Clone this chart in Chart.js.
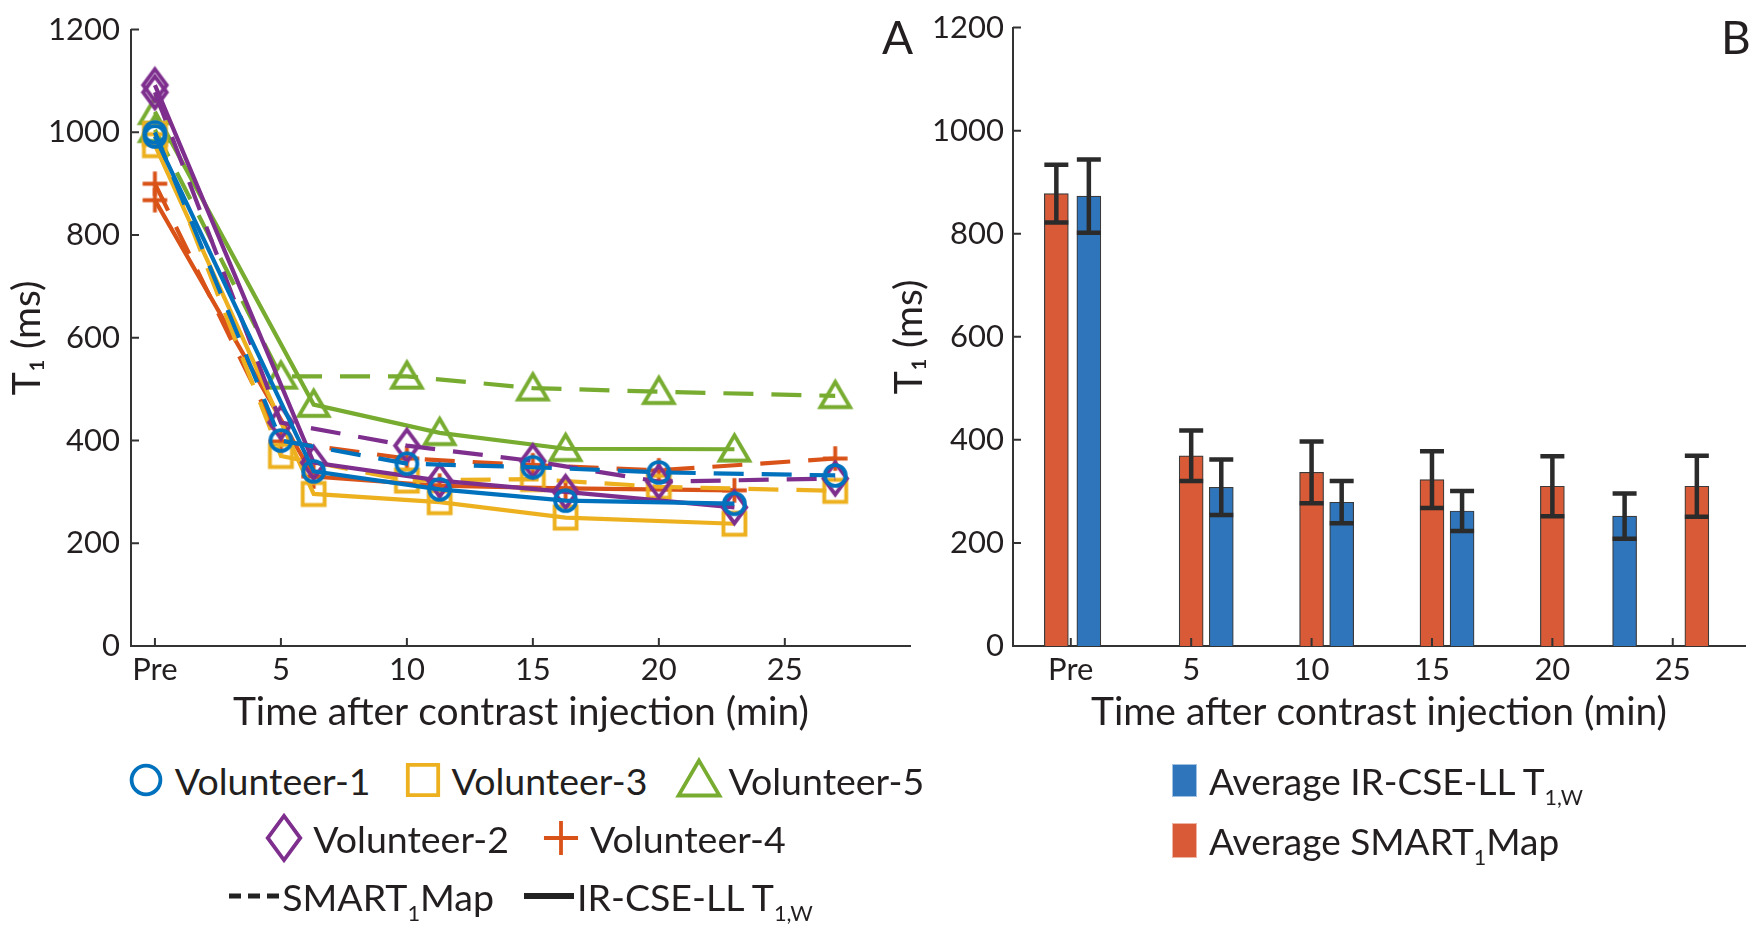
<!DOCTYPE html>
<html>
<head>
<meta charset="utf-8">
<script src="https://cdn.jsdelivr.net/npm/chart.js@4.4.1/dist/chart.umd.min.js"></script>
<style>
  body { margin: 0; width: 1755px; height: 932px; background: #fff; position: relative; overflow: hidden;
         font-family: Lato, "Noto Sans", sans-serif; color: #231f20; }
  .box { position: absolute; top: 0; height: 745px; }
  .panel-tag { position: absolute; top: 14px; font-size: 46px; line-height: 1; }
  .legend { position: absolute; font-size: 37.5px; white-space: nowrap; }
  .legend .row { height: 58px; display: flex; align-items: center; justify-content: center; }
  .legend .item { display: flex; align-items: center; margin: 0 12px; }
  .legend .item span { margin-left: 1px; }
  .legend .item span.after-line { margin-left: 3px; }
  .legend .row.lines .item { margin: 0 15px; }
  #legRight .row { justify-content: flex-start; height: 60px; }
  #legRight canvas { margin-right: 12px; }
  sub { font-size: 58%; vertical-align: -0.45em; line-height: 0; }
</style>
</head>
<body>
<div class="box" style="left:0;width:925px"><canvas id="lines"></canvas></div>
<div class="box" style="left:870px;width:885px"><canvas id="bars"></canvas></div>
<div class="panel-tag" style="left:882px">A</div>
<div class="panel-tag" style="left:1721px">B</div>

<div class="legend" id="legLeft" style="left:0;top:751px;width:1042px"></div>
<div class="legend" id="legRight" style="left:1172px;top:750px;font-size:37px">
  <div class="row"><canvas id="swIr" width="25" height="33"></canvas><span>Average IR-CSE-LL T<sub>1,W</sub></span></div>
  <div class="row"><canvas id="swSm" width="25" height="35"></canvas><span>Average SMART<sub>1</sub>Map</span></div>
</div>

<script>
// x ticks shared by both panels
const tickValues = [0, 5, 10, 15, 20, 25];
const tickLabels = ['Pre', '5', '10', '15', '20', '25'];

// panel A - individual volunteers
const smartTimes = [0, 5, 10, 15, 20, 27];
const irTimes = [0, 6.3, 11.3, 16.3, 23];
const v1Smart = [1000, 400, 355, 348, 338, 332];
const v1Ir = [992, 340, 305, 283, 277];
const v2Smart = [1078, 435, 390, 360, 320, 326];
const v2Ir = [1092, 357, 322, 300, 270];
const v3Smart = [997, 370, 322, 325, 310, 302];
const v3Ir = [975, 296, 280, 250, 238];
const v4Smart = [900, 398, 365, 352, 342, 365];
const v4Ir = [868, 330, 312, 307, 303];
const v5Smart = [1005, 525, 525, 502, 495, 487];
const v5Ir = [1040, 470, 415, 384, 383];

// panel B - averages with error bars
const barSmartTimes = [-0.6, 5, 10, 15, 20, 26];
const barSmartMean = [878, 369, 337, 323, 310, 310];
const barSmartErr = [56, 49, 60, 55, 58, 59];
const barIrTimes = [0.75, 6.25, 11.25, 16.25, 23];
const barIrMean = [873, 308, 279, 262, 252];
const barIrErr = [71, 54, 41, 39, 44];

const FONT = 'Lato';
const INK = '#231f20';
const AXIS = '#333333';
const cBlue = '#0072BD', cOrange = '#D95319', cYellow = '#EDB120', cPurple = '#7E2F8E', cGreen = '#77AC30';
const barOrange = '#d95a36', barBlue = '#2e75bb';

// hollow matlab-like markers, k scales them up
function marker(shape, color, k, lw) {
  const c = document.createElement('canvas');
  const size = Math.ceil(36 * k);
  c.width = size; c.height = size;
  const g = c.getContext('2d');
  g.strokeStyle = color; g.lineWidth = lw / k; g.lineJoin = 'miter';
  g.translate(size / 2, size / 2);
  g.scale(k, k);
  g.beginPath();
  if (shape === 'circle') g.arc(0, 0, 9.3, 0, Math.PI * 2);
  if (shape === 'square') g.rect(-9.8, -9.8, 19.6, 19.6);
  if (shape === 'triangle') { g.moveTo(0, -12.5); g.lineTo(13.2, 10); g.lineTo(-13.2, 10); g.closePath(); }
  if (shape === 'diamond') { g.moveTo(0, -14.2); g.lineTo(10.5, 0); g.lineTo(0, 14.2); g.lineTo(-10.5, 0); g.closePath(); }
  if (shape === 'plus') { g.moveTo(-11, 0); g.lineTo(11, 0); g.moveTo(0, -11); g.lineTo(0, 11); }
  g.stroke();
  return c;
}

const vols = [
  { name: 'Volunteer-1', color: cBlue, shape: 'circle', sm: v1Smart, ir: v1Ir },
  { name: 'Volunteer-2', color: cPurple, shape: 'diamond', sm: v2Smart, ir: v2Ir },
  { name: 'Volunteer-3', color: cYellow, shape: 'square', sm: v3Smart, ir: v3Ir },
  { name: 'Volunteer-4', color: cOrange, shape: 'plus', sm: v4Smart, ir: v4Ir },
  { name: 'Volunteer-5', color: cGreen, shape: 'triangle', sm: v5Smart, ir: v5Ir }
];

const lineSets = [];
vols.forEach(v => {
  const m = marker(v.shape, v.color, 1.12, 3.9);
  lineSets.push({
    label: v.name + ' IR-CSE-LL',
    data: irTimes.map((t, i) => ({ x: t, y: v.ir[i] })),
    borderColor: v.color, borderWidth: 4.2, pointStyle: m, pointRadius: 10, tension: 0
  });
  lineSets.push({
    label: v.name + ' SMART1Map',
    data: smartTimes.map((t, i) => ({ x: t, y: v.sm[i] })),
    borderColor: v.color, borderWidth: 4.2, borderDash: [30, 18], pointStyle: m, pointRadius: 10, tension: 0
  });
});

// matlab style ticks pointing into the plot
const inwardTicks = {
  id: 'inwardTicks',
  afterDraw(chart) {
    const { ctx, chartArea: a, scales: { x, y } } = chart;
    ctx.save();
    ctx.strokeStyle = AXIS; ctx.lineWidth = 2;
    ctx.beginPath();
    y.ticks.forEach(t => { const p = y.getPixelForValue(t.value); ctx.moveTo(a.left, p); ctx.lineTo(a.left + 8, p); });
    x.ticks.forEach(t => { const p = x.getPixelForValue(t.value); ctx.moveTo(p, a.bottom); ctx.lineTo(p, a.bottom - 8); });
    ctx.stroke();
    ctx.restore();
  }
};

const errorBars = {
  id: 'errorBars',
  afterDatasetsDraw(chart) {
    const { ctx, scales: { x, y } } = chart;
    const groups = [[barSmartTimes, barSmartMean, barSmartErr], [barIrTimes, barIrMean, barIrErr]];
    ctx.save();
    ctx.strokeStyle = '#2b2b2b'; ctx.lineWidth = 4.5; ctx.lineCap = 'butt';
    groups.forEach(([xs, ms, es]) => {
      xs.forEach((t, i) => {
        const px = x.getPixelForValue(t);
        const top = y.getPixelForValue(ms[i] + es[i]);
        const bot = y.getPixelForValue(ms[i] - es[i]);
        ctx.beginPath();
        ctx.moveTo(px, top); ctx.lineTo(px, bot);
        ctx.moveTo(px - 12, top); ctx.lineTo(px + 12, top);
        ctx.moveTo(px - 12, bot); ctx.lineTo(px + 12, bot);
        ctx.stroke();
      });
    });
    ctx.restore();
  }
};

function xAxis(min, max) {
  return {
    type: 'linear', min: min, max: max, offset: false,
    grid: { display: false, drawTicks: false },
    border: { color: AXIS, width: 2 },
    afterBuildTicks: s => { s.ticks = tickValues.map(v => ({ value: v })); },
    afterFit: s => { s.height = 99; },
    ticks: {
      padding: 5, color: INK, font: { family: FONT, size: 31 },
      callback: v => tickLabels[tickValues.indexOf(v)]
    },
    title: { display: true, text: 'Time after contrast injection (min)', color: INK,
             font: { family: FONT, size: 39 }, padding: { top: 0, bottom: 9 } }
  };
}

function yAxis(width, titlePad, tickPad) {
  return {
    min: 0, max: 1200,
    grid: { display: false, drawTicks: false },
    border: { color: AXIS, width: 2 },
    afterFit: s => { s.width = width; },
    ticks: { stepSize: 200, padding: tickPad, color: INK, font: { family: FONT, size: 31 },
             callback: v => String(v) },
    title: { display: true, text: 'T₁ (ms)', color: INK,
             font: { family: FONT, size: 39 }, padding: { top: titlePad, bottom: 0 } }
  };
}

new Chart(document.getElementById('lines'), {
  type: 'line',
  data: { datasets: lineSets },
  options: {
    responsive: true, maintainAspectRatio: false, animation: false,
    layout: { padding: { top: 27, right: 10, left: 0, bottom: 0 } },
    plugins: { legend: { display: false }, tooltip: { enabled: false } },
    scales: { x: xAxis(-0.95, 30), y: yAxis(131, 4, 11) }
  },
  plugins: [inwardTicks]
});

new Chart(document.getElementById('bars'), {
  type: 'bar',
  data: {
    datasets: [
      { label: 'Average SMART1Map', data: barSmartTimes.map((t, i) => ({ x: t, y: barSmartMean[i] })),
        backgroundColor: barOrange, borderColor: '#3a3a3a', borderWidth: 1.2, barThickness: 24, grouped: false },
      { label: 'Average IR-CSE-LL T1,W', data: barIrTimes.map((t, i) => ({ x: t, y: barIrMean[i] })),
        backgroundColor: barBlue, borderColor: '#3a3a3a', borderWidth: 1.2, barThickness: 24, grouped: false }
    ]
  },
  options: {
    responsive: true, maintainAspectRatio: false, animation: false,
    layout: { padding: { top: 27, right: 10, left: 0, bottom: 0 } },
    plugins: { legend: { display: false }, tooltip: { enabled: false } },
    scales: { x: xAxis(-2.4, 28), y: yAxis(143, 16, 9) }
  },
  plugins: [errorBars, inwardTicks]
});

// legends (html so the subscripts stay real text)
function lineSample(dashed) {
  const c = document.createElement('canvas');
  c.width = 50; c.height = 20;
  const g = c.getContext('2d');
  g.strokeStyle = '#222'; g.lineWidth = dashed ? 5 : 6;
  g.beginPath();
  if (dashed) g.setLineDash([12, 7]);
  g.moveTo(0, 10); g.lineTo(50, 10);
  g.stroke();
  return c;
}
function legendItem(symbol, html, cls) {
  const it = document.createElement('div');
  it.className = 'item';
  it.appendChild(symbol);
  const s = document.createElement('span');
  if (cls) s.className = cls;
  s.innerHTML = html;
  it.appendChild(s);
  return it;
}
const legLeft = document.getElementById('legLeft');
[[vols[0], vols[2], vols[4]], [vols[1], vols[3]]].forEach(r => {
  const row = document.createElement('div');
  row.className = 'row';
  r.forEach(v => row.appendChild(legendItem(marker(v.shape, v.color, 1.55, 3.8), v.name)));
  legLeft.appendChild(row);
});
const row3 = document.createElement('div');
row3.className = 'row lines';
row3.appendChild(legendItem(lineSample(true), 'SMART<sub>1</sub>Map', 'after-line'));
row3.appendChild(legendItem(lineSample(false), 'IR-CSE-LL T<sub>1,W</sub>', 'after-line'));
legLeft.appendChild(row3);

function swatch(id, col) {
  const el = document.getElementById(id);
  const g = el.getContext('2d');
  g.fillStyle = col; g.fillRect(0, 0, el.width, el.height);
  g.strokeStyle = 'rgba(255,255,255,0.55)'; g.lineWidth = 1; g.strokeRect(0.5, 0.5, el.width - 1, el.height - 1);
}
swatch('swIr', barBlue);
swatch('swSm', barOrange);
</script>
</body>
</html>
